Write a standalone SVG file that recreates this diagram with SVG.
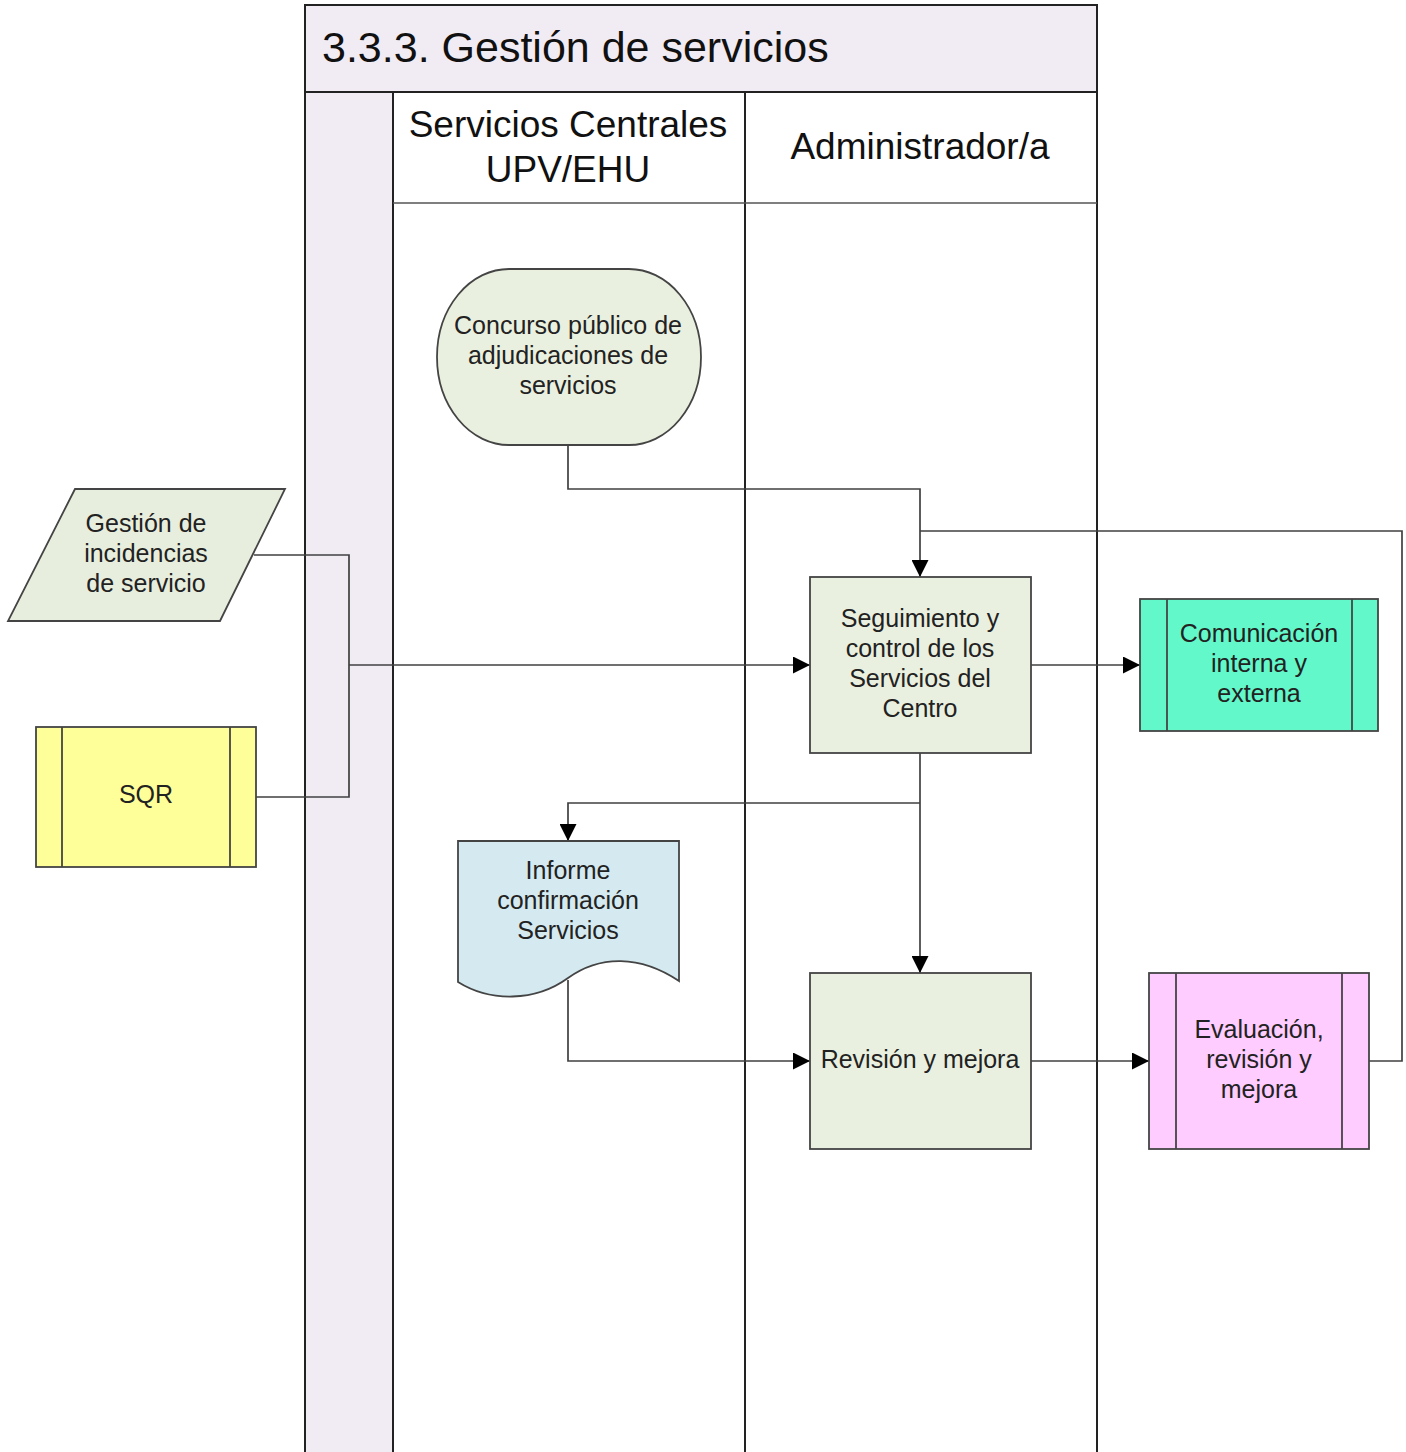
<svg xmlns="http://www.w3.org/2000/svg" width="1406" height="1452" viewBox="0 0 1406 1452">
<defs>
<style>
.pool{fill:none;stroke:#222;stroke-width:2}
.node{stroke:#444;stroke-width:1.8}
.t{font-family:"Liberation Sans",Arial,sans-serif;font-size:25px;fill:#222;text-anchor:middle}
.h{font-family:"Liberation Sans",Arial,sans-serif;font-size:37px;fill:#111;text-anchor:middle}
.c{fill:none;stroke:#404040;stroke-width:1.7}
</style>
<marker id="ar" viewBox="0 0 10 10" refX="10" refY="5" markerWidth="18" markerHeight="17" markerUnits="userSpaceOnUse" orient="auto">
<path d="M0,0 L10,5 L0,10 Z" fill="#000"/>
</marker>
</defs>
<rect width="1406" height="1452" fill="#fff"/>
<g id="pool">
<rect x="305" y="5" width="792" height="87" fill="#F1ECF4"/>
<rect x="305" y="92" width="88" height="1362" fill="#F1ECF4"/>
<path class="pool" d="M305,1452 V5 H1097 V1452"/>
<line class="pool" x1="305" y1="92" x2="1097" y2="92" stroke-width="3"/>
<line class="pool" x1="393" y1="92" x2="393" y2="1452"/>
<line class="pool" x1="745" y1="92" x2="745" y2="1452"/>
<line x1="393" y1="203" x2="1097" y2="203" stroke="#555" stroke-width="1.5"/>
<text x="322" y="62" font-family="'Liberation Sans',Arial,sans-serif" font-size="43" fill="#111">3.3.3. Gestión de servicios</text>
<text class="h" x="568" y="137">Servicios Centrales</text>
<text class="h" x="568" y="182">UPV/EHU</text>
<text class="h" x="920" y="159">Administrador/a</text>
</g>
<g id="connectors">
<path class="c" d="M568,445 V489 H920 V577" marker-end="url(#ar)"/>
<path class="c" d="M1369,1061 H1402 V531 H920"/>
<path class="c" d="M254,555 H349 V797 H256"/>
<path class="c" d="M349,665 H810" marker-end="url(#ar)"/>
<path class="c" d="M1031,665 H1140" marker-end="url(#ar)"/>
<path class="c" d="M920,753 V973" marker-end="url(#ar)"/>
<path class="c" d="M920,803 H568 V841" marker-end="url(#ar)"/>
<path class="c" d="M568,980 V1061 H810" marker-end="url(#ar)"/>
<path class="c" d="M1031,1061 H1149" marker-end="url(#ar)"/>
</g>
<g id="concurso">
<rect class="node" x="437" y="269" width="264" height="176" rx="72" ry="88" fill="#EAF0DF"/>
<text class="t" x="568" y="334">Concurso público de</text>
<text class="t" x="568" y="364">adjudicaciones de</text>
<text class="t" x="568" y="394">servicios</text>
</g>
<g id="gestion">
<polygon class="node" points="75,489 285,489 220,621 8,621" fill="#E8EEDD"/>
<text class="t" x="146" y="532">Gestión de</text>
<text class="t" x="146" y="562">incidencias</text>
<text class="t" x="146" y="592">de servicio</text>
</g>
<g id="sqr">
<rect class="node" x="36" y="727" width="220" height="140" fill="#FFFF99"/>
<line class="node" x1="62" y1="727" x2="62" y2="867"/>
<line class="node" x1="230" y1="727" x2="230" y2="867"/>
<text class="t" x="146" y="803">SQR</text>
</g>
<g id="seguimiento">
<rect class="node" x="810" y="577" width="221" height="176" fill="#EAF0DF"/>
<text class="t" x="920" y="627">Seguimiento y</text>
<text class="t" x="920" y="657">control de los</text>
<text class="t" x="920" y="687">Servicios del</text>
<text class="t" x="920" y="717">Centro</text>
</g>
<g id="comunicacion">
<rect class="node" x="1140" y="599" width="238" height="132" fill="#62F8CA"/>
<line class="node" x1="1167" y1="599" x2="1167" y2="731"/>
<line class="node" x1="1352" y1="599" x2="1352" y2="731"/>
<text class="t" x="1259" y="642">Comunicación</text>
<text class="t" x="1259" y="672">interna y</text>
<text class="t" x="1259" y="702">externa</text>
</g>
<g id="informe">
<path class="node" d="M458,841 H679 V981 C640,955 600,955 568,978 C535,1002 490,1002 458,982 Z" fill="#D4EAF0"/>
<text class="t" x="568" y="879">Informe</text>
<text class="t" x="568" y="909">confirmación</text>
<text class="t" x="568" y="939">Servicios</text>
</g>
<g id="revision">
<rect class="node" x="810" y="973" width="221" height="176" fill="#EAF0DF"/>
<text class="t" x="920" y="1068">Revisión y mejora</text>
</g>
<g id="evaluacion">
<rect class="node" x="1149" y="973" width="220" height="176" fill="#FFCCFF"/>
<line class="node" x1="1176" y1="973" x2="1176" y2="1149"/>
<line class="node" x1="1342" y1="973" x2="1342" y2="1149"/>
<text class="t" x="1259" y="1038">Evaluación,</text>
<text class="t" x="1259" y="1068">revisión y</text>
<text class="t" x="1259" y="1098">mejora</text>
</g>
</svg>
